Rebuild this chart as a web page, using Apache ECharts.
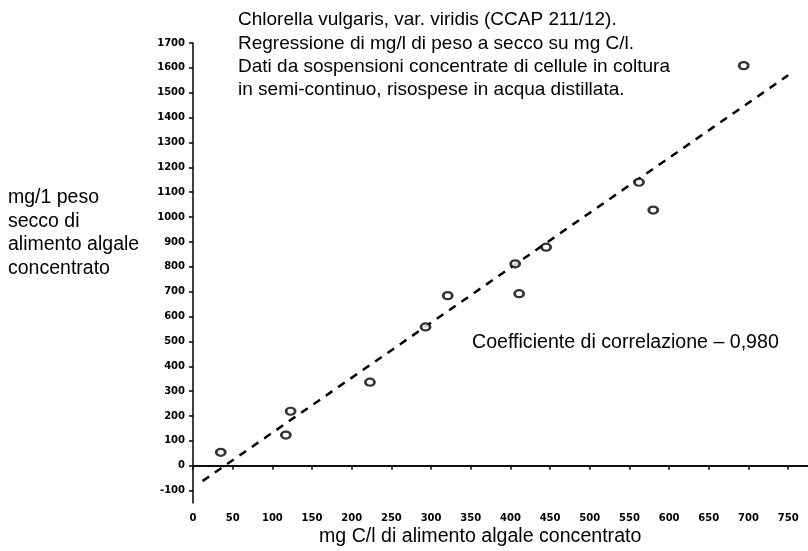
<!DOCTYPE html>
<html>
<head>
<meta charset="utf-8">
<script src="https://cdn.jsdelivr.net/npm/echarts@6/dist/echarts.min.js"></script>
<style>html,body{margin:0;padding:0;background:#fff}#c{width:808px;height:551px}</style>
</head>
<body>
<div id="c"></div>
<script>
// Data
const pointsX = [35, 117, 123, 223, 293, 321, 411, 406, 445, 562, 580, 694];
const pointsY = [54, 123, 219, 336, 558, 684, 692, 812, 879, 1140, 1028, 1609];
const regX = [12, 750];
const regY = [-62, 1570];
const titleLines = [
  'Chlorella vulgaris, var. viridis (CCAP 211/12).',
  'Regressione di mg/l di peso a secco su mg C/l.',
  'Dati da sospensioni concentrate di cellule in coltura',
  'in semi-continuo, risospese in acqua distillata.'
];
const yTitleLines = ['mg/1 peso', 'secco di', 'alimento algale', 'concentrato'];
const xTitle = 'mg C/l di alimento algale concentrato';
const corrText = 'Coefficiente di correlazione \u2013 0,980';

const chart = echarts.init(document.getElementById('c'), null, {renderer: 'canvas'});
function txt(t, size) {
  return {text: t, fontFamily: 'Liberation Sans, Arial, sans-serif', fontSize: size, fill: '#000', textVerticalAlign: 'middle'};
}
const graphics = [];
titleLines.forEach((t, i) => graphics.push({type: 'text', x: 238, y: 20 + i * 23.4, style: txt(t, 19)}));
yTitleLines.forEach((t, i) => graphics.push({type: 'text', x: 8, y: 198 + i * 23.4, style: txt(t, 19.5)}));
graphics.push({type: 'text', x: 472, y: 343, style: txt(corrText, 19.6)});
graphics.push({type: 'text', x: 319, y: 537, style: txt(xTitle, 19.6)});

const tickLabel = {fontFamily: 'DejaVu Sans, sans-serif', fontWeight: 'bold', fontSize: 10, color: '#000'};
const axisLineStyle = {color: '#000', width: 1.5};

chart.setOption({
  animation: false,
  backgroundColor: '#fff',
  grid: [
    {left: 193, right: 0, top: 43, bottom: 48},
    {left: 193, right: 0, top: 43, bottom: 60.4}
  ],
  xAxis: [
    {
      type: 'value', min: 0, max: 775, interval: 50, gridIndex: 0,
      axisLine: {show: true, lineStyle: axisLineStyle},
      axisTick: {show: true, length: 4, lineStyle: axisLineStyle},
      splitLine: {show: false},
      axisLabel: Object.assign({margin: 10, showMaxLabel: false, formatter: v => (v % 50 === 0 && v <= 750) ? String(v) : ''}, tickLabel)
    },
    {type: 'value', min: 0, max: 775, gridIndex: 1, show: false}
  ],
  yAxis: [
    {
      type: 'value', min: -150, max: 1700, gridIndex: 0,
      axisLine: {show: true, onZero: false, lineStyle: axisLineStyle},
      axisTick: {show: false},
      axisLabel: {show: false},
      splitLine: {show: false}
    },
    {
      type: 'value', min: -100, max: 1700, interval: 100, gridIndex: 1,
      axisLine: {show: false, onZero: false},
      axisTick: {show: true, length: 4, lineStyle: axisLineStyle},
      splitLine: {show: false},
      axisLabel: Object.assign({margin: 8, formatter: v => String(v)}, tickLabel)
    }
  ],
  series: [
    {
      type: 'line',
      xAxisIndex: 0, yAxisIndex: 0,
      data: regX.map((x, i) => [x, regY[i]]),
      showSymbol: false,
      symbol: 'none',
      lineStyle: {color: '#000', width: 2.5, type: [8, 7]},
      markLine: {
        silent: true, symbol: 'none', label: {show: false},
        lineStyle: {color: '#000', width: 1.5, type: 'solid'},
        data: [{yAxis: 0}]
      },
      z: 2
    },
    {
      type: 'scatter',
      xAxisIndex: 0, yAxisIndex: 0,
      data: pointsX.map((x, i) => [x, pointsY[i]]),
      symbol: 'circle',
      symbolSize: [9, 7],
      itemStyle: {color: '#fff', borderColor: '#000', borderWidth: 2.5},
      z: 3
    }
  ],
  graphic: graphics
});
</script>
</body>
</html>
